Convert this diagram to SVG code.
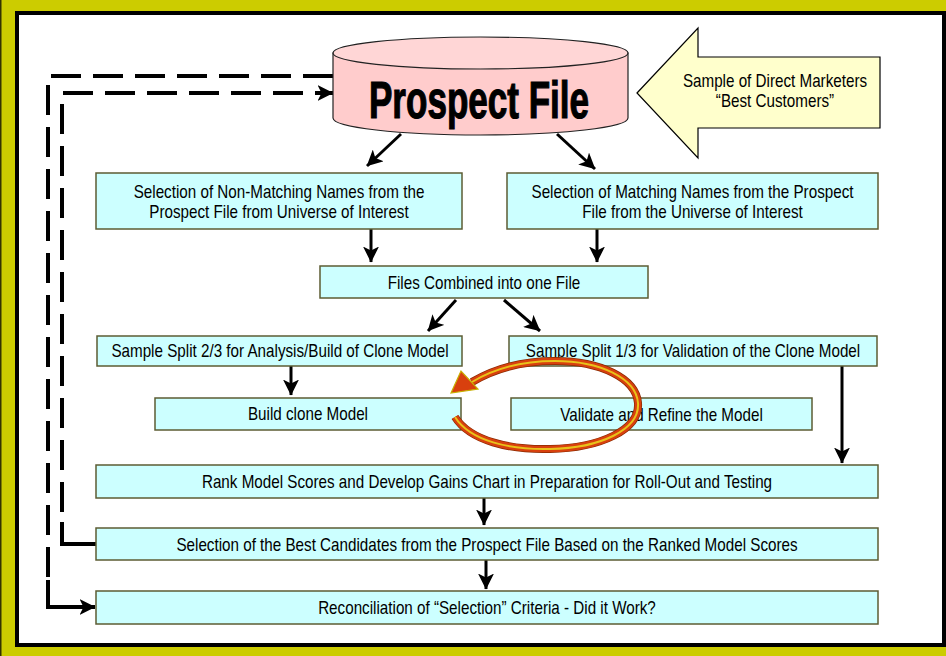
<svg xmlns="http://www.w3.org/2000/svg" width="946" height="656" viewBox="0 0 946 656">
  <style>
    .box { fill: #CCFFFF; stroke: #5C5C33; stroke-width: 1.5; }
    .t { font-family: "Liberation Sans", Arial, sans-serif; font-size: 18px; fill: #000; text-anchor: middle; }
    .conn { fill: none; stroke: #000; stroke-width: 3; }
    .dash { fill: none; stroke: #000; stroke-width: 4; stroke-dasharray: 30 12; }
    .solid4 { fill: none; stroke: #000; stroke-width: 4; }
  </style>
  <defs>
    <marker id="ah" markerUnits="userSpaceOnUse" viewBox="0 0 16 16" markerWidth="16" markerHeight="16" refX="15.5" refY="8" orient="auto">
      <path d="M0,0 L16,8 L0,16 L4,8 Z" fill="#000"/>
    </marker>
  </defs>

  <!-- frame -->
  <rect x="0" y="0" width="946" height="656" fill="#CCCC00"/>
  <line x1="0.75" y1="0" x2="0.75" y2="656" stroke="#333300" stroke-width="1.5"/>
  <rect x="17" y="13" width="927" height="632" fill="#FFFFFF" stroke="#000" stroke-width="4"/>

  <!-- feedback connectors and flow arrows -->
  <g id="connectors">
    <path class="dash" d="M333,76 H48 V582"/>
    <path class="solid4" d="M48,580 V607 H95" marker-end="url(#ah)"/>
    <path class="solid4" d="M96,544 H62 V522"/>
    <path class="dash" d="M62,512 V93 H318"/>
    <path class="solid4" d="M316,93 H333" marker-end="url(#ah)"/>
    <line class="conn" x1="401" y1="134" x2="367" y2="166" marker-end="url(#ah)"/>
    <line class="conn" x1="557" y1="134" x2="595" y2="169" marker-end="url(#ah)"/>
    <line class="conn" x1="371" y1="229" x2="371" y2="262" marker-end="url(#ah)"/>
    <line class="conn" x1="597" y1="229" x2="597" y2="262" marker-end="url(#ah)"/>
    <line class="conn" x1="456" y1="300" x2="428" y2="331" marker-end="url(#ah)"/>
    <line class="conn" x1="504" y1="300" x2="540" y2="331" marker-end="url(#ah)"/>
    <line class="conn" x1="291" y1="366" x2="291" y2="395" marker-end="url(#ah)"/>
    <line class="conn" x1="842" y1="366" x2="842" y2="463" marker-end="url(#ah)"/>
    <line class="conn" x1="484" y1="498" x2="484" y2="525" marker-end="url(#ah)"/>
    <line class="conn" x1="486" y1="560" x2="486" y2="589" marker-end="url(#ah)"/>
  </g>

  <!-- database cylinder -->
  <g id="prospect-file">
    <path d="M333,53 V118 A147.5,17 0 0 0 628,118 V53 Z" fill="#FFCCCC" stroke="#222" stroke-width="1.2"/>
    <ellipse cx="480.5" cy="53" rx="147.5" ry="16" fill="#FFD6D6" stroke="#222" stroke-width="1.2"/>
    <text x="479" y="118" textLength="220" lengthAdjust="spacingAndGlyphs" style="font-family:'Liberation Sans',Arial,sans-serif;font-size:51px;font-weight:bold;text-anchor:middle;stroke:#000;stroke-width:1.2">Prospect File</text>
  </g>

  <!-- input block arrow -->
  <g id="best-customers">
    <path d="M637,93 L698,28 V57 H880 V128 H698 V158 Z" fill="#FFFFCC" stroke="#000" stroke-width="1.2"/>
    <text class="t" x="775" y="87" transform="matrix(0.845 0 0 1 120.125 0)">Sample of Direct Marketers</text>
    <text class="t" x="775" y="107" transform="matrix(0.845 0 0 1 120.125 0)">“Best Customers”</text>
  </g>

  <g id="non-matching">
    <rect class="box" x="96" y="173" width="366" height="56"/>
    <text class="t" x="279" y="198" transform="matrix(0.845 0 0 1 43.245 0)">Selection of Non-Matching Names from the</text>
    <text class="t" x="279" y="218" transform="matrix(0.845 0 0 1 43.245 0)">Prospect File from Universe of Interest</text>
  </g>

  <g id="matching">
    <rect class="box" x="507" y="173" width="371" height="56"/>
    <text class="t" x="692.5" y="198" transform="matrix(0.845 0 0 1 107.34 0)">Selection of Matching Names from the Prospect</text>
    <text class="t" x="692.5" y="218" transform="matrix(0.845 0 0 1 107.34 0)">File from the Universe of Interest</text>
  </g>

  <g id="combined">
    <rect class="box" x="320" y="266" width="328" height="32"/>
    <text class="t" x="484" y="289" transform="matrix(0.845 0 0 1 75.02 0)">Files Combined into one File</text>
  </g>

  <g id="split-build">
    <rect class="box" x="97" y="336" width="365" height="30"/>
    <text class="t" x="280" y="357" transform="matrix(0.845 0 0 1 43.4 0)">Sample Split 2/3 for Analysis/Build of Clone Model</text>
  </g>

  <g id="split-validate">
    <rect class="box" x="509" y="336" width="368" height="30"/>
    <text class="t" x="693" y="357" transform="matrix(0.845 0 0 1 107.415 0)">Sample Split 1/3 for Validation of the Clone Model</text>
  </g>

  <g id="build">
    <rect class="box" x="155" y="398" width="306" height="32"/>
    <text class="t" x="308" y="420" transform="matrix(0.845 0 0 1 47.74 0)">Build clone Model</text>
  </g>

  <g id="validate">
    <rect class="box" x="511" y="398" width="301" height="32"/>
    <text class="t" x="661.5" y="421" transform="matrix(0.845 0 0 1 102.53 0)">Validate and Refine the Model</text>
  </g>

  <!-- refine loop arrow -->
  <g id="refine-loop">
    <path d="M455,417 C470,441 510,450 550,449 C600,448 640,430 638,403 C636,378 600,361 555,361 C520,361 492,370 472,382" fill="none" stroke="#8A2A00" stroke-width="8"/>
    <path d="M455,417 C470,441 510,450 550,449 C600,448 640,430 638,403 C636,378 600,361 555,361 C520,361 492,370 472,382" fill="none" stroke="#D8400E" stroke-width="6.5"/>
    <path d="M455,417 C470,441 510,450 550,449 C600,448 640,430 638,403 C636,378 600,361 555,361 C520,361 492,370 472,382" fill="none" stroke="#E8C21A" stroke-width="2"/>
    <path d="M451,393 L461,371 L478,389 Z" fill="#D8400E" stroke="#C8B000" stroke-width="1.2"/>
  </g>

  <g id="rank">
    <rect class="box" x="96" y="465" width="782" height="33"/>
    <text class="t" x="487" y="488" transform="matrix(0.845 0 0 1 75.485 0)">Rank Model Scores and Develop Gains Chart in Preparation for Roll-Out and Testing</text>
  </g>

  <g id="select-best">
    <rect class="box" x="96" y="528" width="782" height="32"/>
    <text class="t" x="487" y="551" transform="matrix(0.845 0 0 1 75.485 0)">Selection of the Best Candidates from the Prospect File Based on the Ranked Model Scores</text>
  </g>

  <g id="reconcile">
    <rect class="box" x="96" y="591" width="782" height="33"/>
    <text class="t" x="487" y="614" transform="matrix(0.845 0 0 1 75.485 0)">Reconciliation of “Selection” Criteria - Did it Work?</text>
  </g>
</svg>
